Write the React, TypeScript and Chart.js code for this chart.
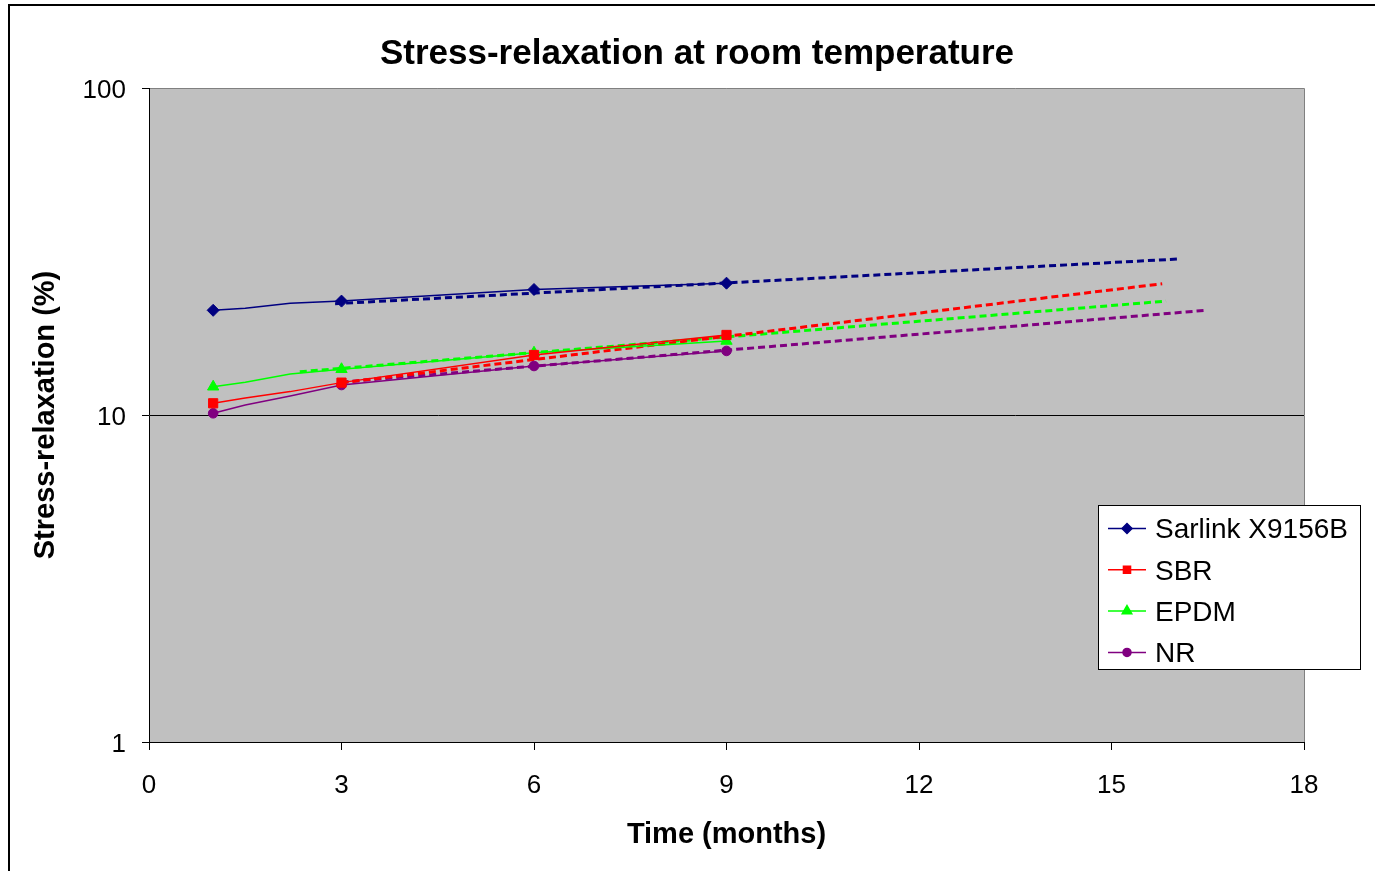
import React, { useEffect, useRef } from "react";
import { Chart, registerables } from "chart.js";
import * as helpers from "chart.js/helpers";

Chart.register(...registerables);

// ---- text ----
const chartTitle = "Stress-relaxation at room temperature";
const xAxisTitle = "Time (months)";
const yAxisTitle = "Stress-relaxation (%)";

// ---- ticks ----
const xTickValues = [0, 3, 6, 9, 12, 15, 18];
const yTickValues = [1, 10, 100];

// ---- series ----
const seriesNames = ["Sarlink X9156B", "SBR", "EPDM", "NR"];
const seriesColors = ["#000080", "#FF0000", "#00FF00", "#800080"];
const seriesMarkers = ["rectRot", "rect", "triangle", "circle"];
const seriesMarkerRadius = [6, 6.5, 6.5, 4.8];
const legendMarkerRadius = [5, 5, 5.5, 4];

const months = [1, 1.5, 2.2, 3, 6, 9];
const markerShown = [true, false, false, true, true, true];
const sarlinkValues = [20.9, 21.2, 21.96, 22.3, 24.2, 25.3];
const sbrValues = [10.86, 11.27, 11.79, 12.56, 15.26, 17.57];
const epdmValues = [12.2, 12.6, 13.35, 13.8, 15.5, 16.84];
const nrValues = [10.12, 10.73, 11.43, 12.35, 14.12, 15.7];

// ---- exponential trend lines (dashed) ----
const sarlinkTrendMonths = [2.9, 16.04];
const sarlinkTrendValues = [21.9, 30.0];
const sbrTrendMonths = [3, 15.79];
const sbrTrendValues = [12.55, 25.2];
const epdmTrendMonths = [2.35, 15.85];
const epdmTrendValues = [13.56, 22.3];
const nrTrendMonths = [3, 16.47];
const nrTrendValues = [12.6, 20.9];

const FONT = "'Liberation Sans', Arial, Helvetica, sans-serif";

const seriesValues = [sarlinkValues, sbrValues, epdmValues, nrValues];
const trendMonthsList = [sarlinkTrendMonths, sbrTrendMonths, epdmTrendMonths, nrTrendMonths];
const trendValuesList = [sarlinkTrendValues, sbrTrendValues, epdmTrendValues, nrTrendValues];

const framePlugin = {
  id: "framePlugin",
  beforeDraw(chart: any) {
    const { ctx, chartArea } = chart;
    ctx.save();
    // plot area background
    ctx.fillStyle = "#C0C0C0";
    ctx.fillRect(chartArea.left, chartArea.top, chartArea.right - chartArea.left, chartArea.bottom - chartArea.top);
    // plot area top & right border (gray)
    ctx.strokeStyle = "#808080";
    ctx.lineWidth = 1;
    ctx.beginPath();
    ctx.moveTo(chartArea.left, chartArea.top + 0.5);
    ctx.lineTo(chartArea.right + 0.5, chartArea.top + 0.5);
    ctx.lineTo(chartArea.right + 0.5, chartArea.bottom);
    ctx.stroke();
    // outer chart frame
    ctx.strokeStyle = "#000000";
    ctx.lineWidth = 2;
    ctx.beginPath();
    ctx.moveTo(9, chart.height + 2);
    ctx.lineTo(9, 5);
    ctx.lineTo(chart.width + 2, 5);
    ctx.stroke();
    ctx.restore();
  },
  afterDraw(chart: any) {
    const { ctx } = chart;
    ctx.save();
    // title
    ctx.fillStyle = "#000000";
    ctx.font = `bold 35px ${FONT}`;
    ctx.textAlign = "center";
    ctx.textBaseline = "middle";
    ctx.fillText(chartTitle, 697, 54);

    // legend
    const bx = 1098, by = 505, bw = 263, bh = 165;
    ctx.fillStyle = "#FFFFFF";
    ctx.fillRect(bx, by, bw, bh);
    ctx.strokeStyle = "#000000";
    ctx.lineWidth = 1;
    ctx.strokeRect(bx + 0.5, by + 0.5, bw - 1, bh - 1);
    const series = chart.data.datasets.filter((d: any) => !d.isTrend);
    series.forEach((d: any, i: number) => {
      const y = 528.5 + i * 41.3;
      ctx.strokeStyle = d.borderColor;
      ctx.lineWidth = 1.5;
      ctx.beginPath();
      ctx.moveTo(1108, y);
      ctx.lineTo(1146, y);
      ctx.stroke();
      ctx.fillStyle = d.borderColor;
      helpers.drawPoint(ctx, { pointStyle: d.legendMarker, radius: d.legendRadius, rotation: 0, borderWidth: 1 }, 1127, y);
      ctx.fillStyle = "#000000";
      ctx.font = `28px ${FONT}`;
      ctx.textAlign = "left";
      ctx.textBaseline = "middle";
      ctx.fillText(d.label, 1155, y + 2);
    });
    ctx.restore();
  },
};

export default function App() {
  const canvasRef = useRef<HTMLCanvasElement | null>(null);

  useEffect(() => {
    if (!canvasRef.current) return;

    const seriesDatasets = seriesNames.map((name, i) => ({
      label: name,
      isTrend: false,
      legendMarker: seriesMarkers[i],
      legendRadius: legendMarkerRadius[i],
      data: months.map((m, j) => ({ x: m, y: seriesValues[i][j] })),
      borderColor: seriesColors[i],
      backgroundColor: seriesColors[i],
      borderWidth: 1.5,
      pointStyle: seriesMarkers[i],
      pointRadius: markerShown.map((s) => (s ? seriesMarkerRadius[i] : 0)),
      pointBorderWidth: 1,
      pointBorderColor: seriesColors[i],
      pointBackgroundColor: seriesColors[i],
      tension: 0,
      order: 0,
    }));

    const trendDatasets = seriesNames.map((name, i) => ({
      label: name + " trend",
      isTrend: true,
      data: trendMonthsList[i].map((m, j) => ({ x: m, y: trendValuesList[i][j] })),
      borderColor: seriesColors[i],
      backgroundColor: seriesColors[i],
      borderWidth: 3,
      borderDash: [7, 4],
      pointRadius: 0,
      tension: 0,
      order: 1,
    }));

    const chart = new Chart(canvasRef.current, {
      type: "line",
      data: { datasets: [...seriesDatasets, ...trendDatasets] as any },
      options: {
        responsive: false,
        animation: false,
        layout: { padding: { left: 0, top: 88, right: 71, bottom: 0 } },
        plugins: {
          legend: { display: false },
          title: { display: false },
          tooltip: { enabled: false },
        },
        scales: {
          x: {
            type: "linear",
            min: 0,
            max: 18,
            afterBuildTicks: (scale: any) => {
              scale.ticks = xTickValues.map((v) => ({ value: v }));
            },
            afterFit: (scale: any) => {
              scale.height = 129;
            },
            ticks: {
              color: "#000000",
              font: { family: FONT, size: 26 },
              padding: 20.5,
              maxRotation: 0,
              callback: (v: any) => String(v),
            },
            grid: {
              drawOnChartArea: false,
              drawTicks: true,
              tickLength: 8,
              tickColor: "#000000",
              color: "#000000",
            },
            border: { display: true, color: "#000000", width: 1 },
            title: {
              display: true,
              text: xAxisTitle,
              color: "#000000",
              font: { family: FONT, size: 29, weight: "bold" },
              padding: { top: 0, bottom: 19 },
            },
          },
          y: {
            type: "logarithmic",
            min: 1,
            max: 100,
            afterBuildTicks: (scale: any) => {
              scale.ticks = yTickValues.map((v) => ({ value: v, major: true }));
            },
            afterFit: (scale: any) => {
              scale.width = 149;
            },
            ticks: {
              color: "#000000",
              font: { family: FONT, size: 26 },
              padding: 16,
              labelOffset: 2.5,
              callback: (v: any) => String(v),
            },
            grid: {
              drawOnChartArea: true,
              drawTicks: true,
              tickLength: 7,
              tickColor: "#000000",
              color: (ctx: any) => (ctx.tick && ctx.tick.value === 10 ? "#000000" : "rgba(0,0,0,0)"),
              lineWidth: 1,
            },
            border: { display: true, color: "#000000", width: 1 },
            title: {
              display: true,
              text: yAxisTitle,
              color: "#000000",
              font: { family: FONT, size: 29, weight: "bold" },
              padding: { top: 29, bottom: 0 },
            },
          },
        },
      },
      plugins: [framePlugin],
    } as any);

    return () => chart.destroy();
  }, []);

  return (
    <div style={{ position: "fixed", left: 0, top: 0, width: 1375, height: 871, background: "#FFFFFF" }}>
      <canvas ref={canvasRef} width={1375} height={871} style={{ display: "block", width: 1375, height: 871 }} />
    </div>
  );
}
